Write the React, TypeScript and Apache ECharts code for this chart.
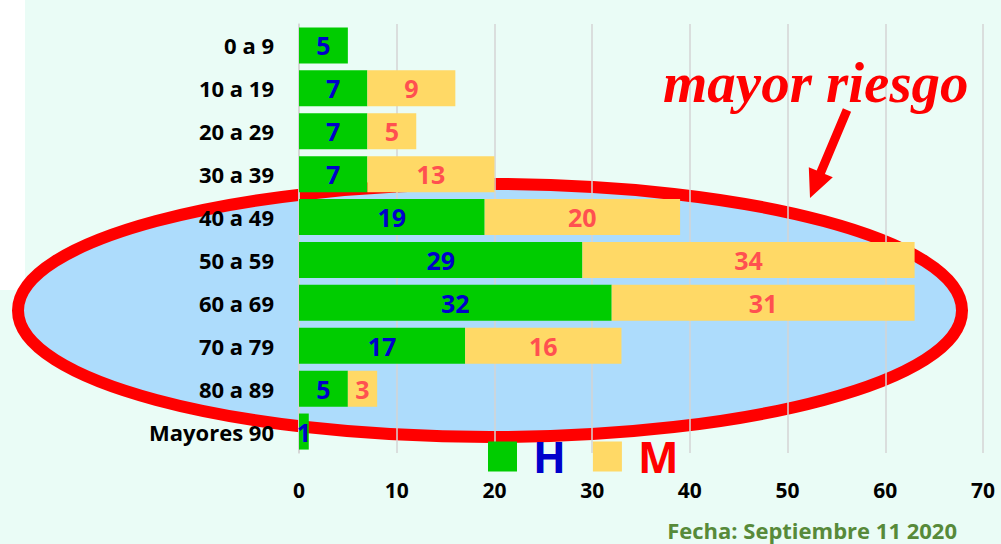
import React, { useEffect, useRef } from "react";
import * as echarts from "echarts";

const categories = ["0 a 9", "10 a 19", "20 a 29", "30 a 39", "40 a 49", "50 a 59", "60 a 69", "70 a 79", "80 a 89", "Mayores 90"];
const hombres = [5, 7, 7, 7, 19, 29, 32, 17, 5, 1];
const mujeres: (number | null)[] = [null, 9, 5, 13, 20, 34, 31, 16, 3, null];
const xTicks = { min: 0, max: 70, interval: 10 };
const titleNote = "mayor riesgo";
const dateNote = "Fecha: Septiembre 11 2020";

const FONT = "'Open Sans'";

export default function App() {
  const ref = useRef<HTMLDivElement>(null);
  useEffect(() => {
    if (!ref.current) return;
    const chart = echarts.init(ref.current, undefined, { renderer: "svg" });
    chart.setOption({
      animation: false,
      backgroundColor: "#eafcf6",
      grid: { left: 299, right: 18, top: 24, bottom: 91, containLabel: false },
      legend: {
        left: 488,
        top: 435,
        padding: 0,
        itemWidth: 29,
        itemHeight: 30,
        itemGap: 27,
        icon: "rect",
        data: [
          { name: "H", textStyle: { color: "#0000cc" } },
          { name: "M", textStyle: { color: "#ff0000" } },
        ],
        textStyle: { fontSize: 43, fontWeight: "bold", fontFamily: FONT, lineHeight: 30, padding: [0, 0, 0, 11] },
      },
      xAxis: {
        type: "value",
        min: xTicks.min,
        max: xTicks.max,
        interval: xTicks.interval,
        axisLine: { show: false },
        axisTick: { show: false },
        splitLine: { lineStyle: { color: "#d5d5d5", width: 1.5 } },
        axisLabel: { color: "#000", fontSize: 21, fontWeight: "bold", fontFamily: FONT, margin: 26 },
      },
      yAxis: {
        type: "category",
        data: categories,
        inverse: true,
        axisLine: { show: true, lineStyle: { color: "#d5d5d5", width: 1.5 } },
        axisTick: { show: false },
        axisLabel: { color: "#000", fontSize: 22, fontWeight: "bold", fontFamily: FONT, margin: 25 },
      },
      series: [
        {
          name: "H",
          type: "bar",
          stack: "total",
          data: hombres,
          barCategoryGap: "16%",
          itemStyle: { color: "#00cc00" },
          label: { show: true, position: "inside", color: "#0000cc", fontSize: 25, fontWeight: "bold", fontFamily: FONT },
        },
        {
          name: "M",
          type: "bar",
          stack: "total",
          data: mujeres,
          barCategoryGap: "16%",
          itemStyle: { color: "#ffd966" },
          label: { show: true, position: "inside", color: "#ff5050", fontSize: 25, fontWeight: "bold", fontFamily: FONT },
        },
      ],
      graphic: [
        { type: "rect", z: -20, shape: { x: 0, y: 0, width: 25, height: 290 }, style: { fill: "#ffffff" } },
        {
          type: "ellipse",
          z: -10,
          shape: { cx: 490, cy: 310.5, rx: 472, ry: 126.5 },
          style: { fill: "#addcfc", stroke: "#ff0000", lineWidth: 12 },
        },
        {
          type: "text",
          z: 10,
          style: {
            x: 663,
            y: 82,
            text: titleNote,
            font: "italic bold 57px 'Liberation Serif'",
            fill: "#ff0000",
            textAlign: "left",
            textVerticalAlign: "middle",
          },
        },
        {
          type: "polygon",
          z: 10,
          shape: {
            points: [
              [851.1, 111.7],
              [824.9, 173.9],
              [832.8, 177.2],
              [810, 198],
              [808.8, 167.2],
              [816.7, 170.5],
              [842.9, 108.3],
            ],
          },
          style: { fill: "#ff0000" },
        },
        {
          type: "text",
          z: 10,
          style: {
            x: 957,
            y: 530,
            text: dateNote,
            font: `bold 22px ${FONT}`,
            fill: "#578a3a",
            textAlign: "right",
            textVerticalAlign: "middle",
          },
        },
      ],
    });
    return () => chart.dispose();
  }, []);
  return <div ref={ref} style={{ width: 1001, height: 544, position: "absolute", left: 0, top: 0 }} />;
}
